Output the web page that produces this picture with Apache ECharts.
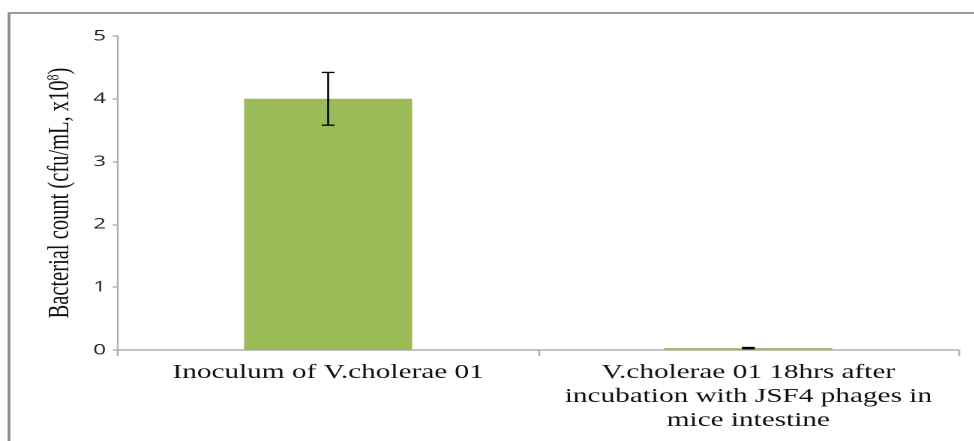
<!DOCTYPE html>
<html>
<head>
<meta charset="utf-8">
<script src="https://cdn.jsdelivr.net/npm/echarts@6/dist/echarts.min.js"></script>
<style>
html, body { margin: 0; padding: 0; background: #fff; overflow: hidden; }
/* the source picture is stretched 1.5x horizontally, so draw narrow and stretch */
#chart { width: 649.33px; height: 441px; transform: scaleX(1.5); transform-origin: 0 0; }
</style>
</head>
<body>
<div id="chart"></div>
<script>
var categories = ['Inoculum of V.cholerae 01', 'V.cholerae 01 18hrs after\nincubation with JSF4 phages in\nmice intestine'];
var counts = [4.0, 0.03];
var errors = [0.42, 0.01];
var yTicks = [0, 1, 2, 3, 4, 5];

var serif = 'Liberation Serif';

// error bar data: [index, low, high]
var errData = [];
for (var i = 0; i < counts.length; i++) {
	errData.push([i, counts[i] - errors[i], counts[i] + errors[i]]);
}

function renderErr(params, api) {
	var lo = api.coord([api.value(0), api.value(1)]);
	var hi = api.coord([api.value(0), api.value(2)]);
	var half = 4.3;
	var st = { stroke: '#000', lineWidth: 1.3 };
	return {
		type: 'group',
		children: [
			{ type: 'line', shape: { x1: hi[0], y1: hi[1], x2: lo[0], y2: lo[1] }, style: st },
			{ type: 'line', shape: { x1: hi[0] - half, y1: hi[1], x2: hi[0] + half, y2: hi[1] }, style: st },
			{ type: 'line', shape: { x1: lo[0] - half, y1: lo[1], x2: lo[0] + half, y2: lo[1] }, style: st }
		]
	};
}

var myChart = echarts.init(document.getElementById('chart'), null, { devicePixelRatio: 2 });
var option = {
	animation: false,
	graphic: [{
		type: 'rect',
		shape: { x: 6, y: 13, width: 700, height: 500 },
		style: { fill: 'none', stroke: '#8c8c8c', lineWidth: 1.8 },
		silent: true
	}],
	grid: { left: 78.67, right: 10, top: 36, bottom: 91 },
	xAxis: {
		type: 'category',
		data: categories,
		axisLine: { lineStyle: { color: '#b0b0b0', width: 1.5 } },
		axisTick: { show: true, length: 6, lineStyle: { color: '#b0b0b0', width: 1.3 } },
		axisLabel: {
			interval: 0,
			margin: 11,
			fontFamily: serif,
			fontSize: 19.5,
			lineHeight: 24,
			color: '#111'
		}
	},
	yAxis: {
		type: 'value',
		min: yTicks[0],
		max: yTicks[yTicks.length - 1],
		interval: 1,
		name: 'Bacterial count (cfu/mL, x10{sup|8})',
		nameLocation: 'middle',
		nameGap: 28,
		nameTextStyle: {
			fontFamily: serif,
			fontSize: 20.5,
			color: '#111',
			rich: {
				sup: { fontFamily: serif, fontSize: 12, verticalAlign: 'top', padding: [0, 0, 9, 0], color: '#111' }
			}
		},
		splitLine: { show: false },
		axisLine: { show: true, lineStyle: { color: '#b0b0b0', width: 1.2 } },
		axisTick: { show: true, length: 3.5, lineStyle: { color: '#b0b0b0', width: 1.5 } },
		axisLabel: {
			margin: 8,
			fontFamily: 'Open Sans',
			fontSize: 15,
			color: '#222'
		}
	},
	series: [{
		type: 'bar',
		data: counts,
		barWidth: '40%',
		itemStyle: { color: '#9bbb59' }
	}, {
		type: 'custom',
		data: errData,
		renderItem: renderErr,
		encode: { x: 0, y: [1, 2] },
		z: 10
	}]
};
myChart.setOption(option);
</script>
</body>
</html>
